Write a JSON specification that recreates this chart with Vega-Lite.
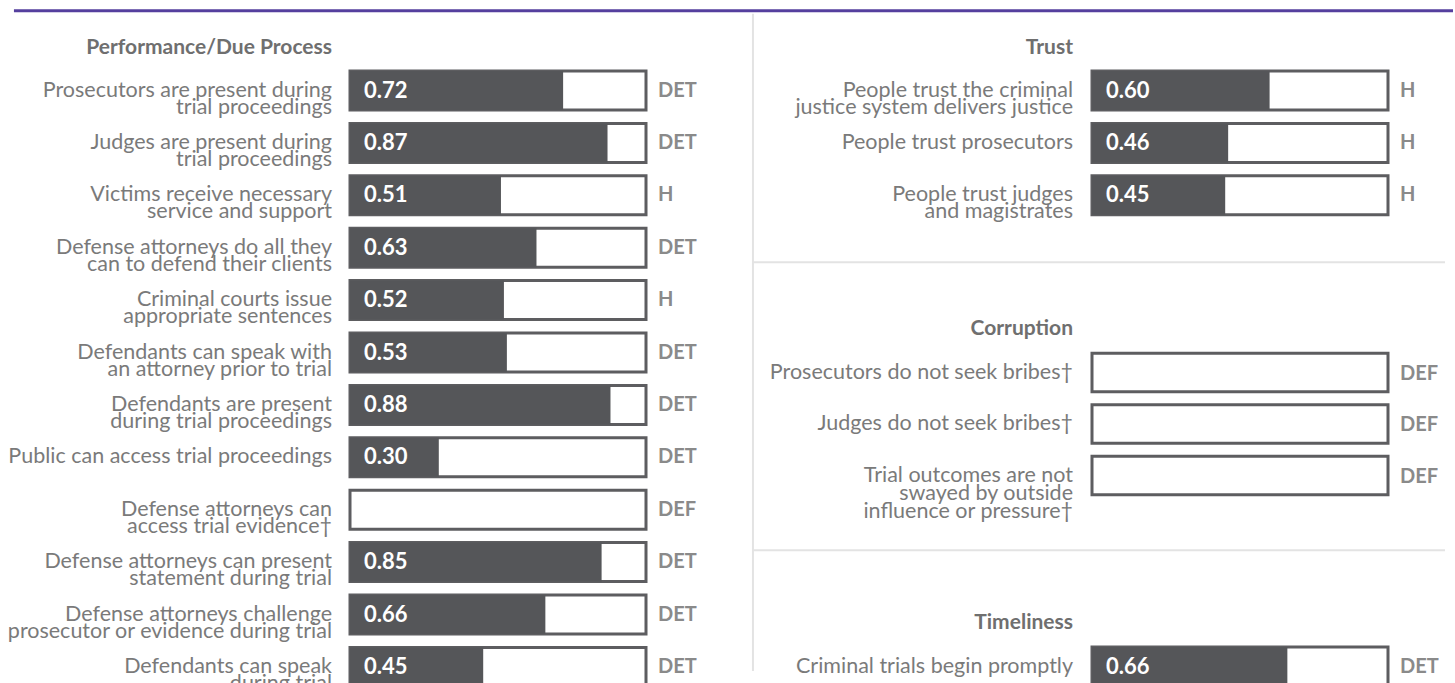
{
  "$schema": "https://vega.github.io/schema/vega-lite/v6.json",
  "width": 1455,
  "height": 683,
  "autosize": {"type": "fit", "contains": "padding"},
  "padding": 0,
  "background": "white",
  "config": {"view": {"stroke": null}, "axis": {"disable": true}, "font": "Lato"},
  "datasets": {
    "items": [
      {"panel": "left", "section": "Performance/Due Process", "order": 1, "label": "Prosecutors are present during\ntrial proceedings", "value": 0.72, "code": "DET"},
      {"panel": "left", "section": "Performance/Due Process", "order": 2, "label": "Judges are present during\ntrial proceedings", "value": 0.87, "code": "DET"},
      {"panel": "left", "section": "Performance/Due Process", "order": 3, "label": "Victims receive necessary\nservice and support", "value": 0.51, "code": "H"},
      {"panel": "left", "section": "Performance/Due Process", "order": 4, "label": "Defense attorneys do all they\ncan to defend their clients", "value": 0.63, "code": "DET"},
      {"panel": "left", "section": "Performance/Due Process", "order": 5, "label": "Criminal courts issue\nappropriate sentences", "value": 0.52, "code": "H"},
      {"panel": "left", "section": "Performance/Due Process", "order": 6, "label": "Defendants can speak with\nan attorney prior to trial", "value": 0.53, "code": "DET"},
      {"panel": "left", "section": "Performance/Due Process", "order": 7, "label": "Defendants are present\nduring trial proceedings", "value": 0.88, "code": "DET"},
      {"panel": "left", "section": "Performance/Due Process", "order": 8, "label": "Public can access trial proceedings", "value": 0.30, "code": "DET"},
      {"panel": "left", "section": "Performance/Due Process", "order": 9, "label": "Defense attorneys can\naccess trial evidence†", "value": null, "code": "DEF"},
      {"panel": "left", "section": "Performance/Due Process", "order": 10, "label": "Defense attorneys can present\nstatement during trial", "value": 0.85, "code": "DET"},
      {"panel": "left", "section": "Performance/Due Process", "order": 11, "label": "Defense attorneys challenge\nprosecutor or evidence during trial", "value": 0.66, "code": "DET"},
      {"panel": "left", "section": "Performance/Due Process", "order": 12, "label": "Defendants can speak\nduring trial", "value": 0.45, "code": "DET"},
      {"panel": "right", "section": "Trust", "order": 1, "label": "People trust the criminal\njustice system delivers justice", "value": 0.60, "code": "H"},
      {"panel": "right", "section": "Trust", "order": 2, "label": "People trust prosecutors", "value": 0.46, "code": "H"},
      {"panel": "right", "section": "Trust", "order": 3, "label": "People trust judges\nand magistrates", "value": 0.45, "code": "H"},
      {"panel": "right", "section": "Corruption", "order": 1, "label": "Prosecutors do not seek bribes†\n ", "value": null, "code": "DEF"},
      {"panel": "right", "section": "Corruption", "order": 2, "label": "Judges do not seek bribes†", "value": null, "code": "DEF"},
      {"panel": "right", "section": "Corruption", "order": 3, "label": "Trial outcomes are not\nswayed by outside\ninfluence or pressure†", "value": null, "code": "DEF"},
      {"panel": "right", "section": "Timeliness", "order": 1, "label": "Criminal trials begin promptly", "value": 0.66, "code": "DET"}
    ]
  },
  "data": {"name": "items"},
  "resolve": {"scale": {"x": "independent", "y": "independent"}},
  "layer": [
    {
      "transform": [{"filter": "datum.section === 'Performance/Due Process'"}],
      "encoding": {
        "y": {"field": "order", "type": "ordinal", "axis": null, "scale": {"range": [64.3, 693.1], "paddingInner": 0.256, "paddingOuter": 0.128}}
      },
      "layer": [
        {"mark": {"type": "bar", "fill": "white", "stroke": "#5d5d60", "strokeWidth": 3},
         "encoding": {"x": {"datum": 1, "type": "quantitative", "axis": null, "scale": {"domain": [0, 1], "range": [350, 646]}}}},
        {"transform": [{"filter": "isValid(datum.value)"}],
         "mark": {"type": "bar", "fill": "#555659"},
         "encoding": {"x": {"field": "value", "type": "quantitative", "axis": null, "scale": {"domain": [0, 1], "range": [350, 646]}}}},
        {"transform": [{"filter": "isValid(datum.value)"}],
         "mark": {"type": "text", "align": "left", "baseline": "middle", "dx": 14, "fontSize": 22, "fontWeight": "bold", "fill": "white", "font": "Lato"},
         "encoding": {"x": {"datum": 0, "type": "quantitative", "axis": null, "scale": {"domain": [0, 1], "range": [350, 646]}}, "text": {"field": "value", "format": ".2f"}}},
        {"mark": {"type": "text", "align": "right", "baseline": "middle", "dx": -18, "fontSize": 21.5, "fill": "#7a7a7a", "font": "Lato", "lineBreak": "\n", "lineHeight": 17},
         "encoding": {"x": {"datum": 0, "type": "quantitative", "axis": null, "scale": {"domain": [0, 1], "range": [350, 646]}}, "text": {"field": "label"}}},
        {"mark": {"type": "text", "align": "left", "baseline": "middle", "dx": 12, "fontSize": 20, "fontWeight": "bold", "fill": "#8a8a8a", "font": "Lato"},
         "encoding": {"x": {"datum": 1, "type": "quantitative", "axis": null, "scale": {"domain": [0, 1], "range": [350, 646]}}, "text": {"field": "code"}}},
        {"transform": [{"filter": "datum.order === 1"}],
         "mark": {"type": "text", "align": "right", "baseline": "middle", "dx": -18, "dy": -43, "fontSize": 21, "fontWeight": "bold", "fill": "#6f6f6f", "font": "Lato"},
         "encoding": {"x": {"datum": 0, "type": "quantitative", "axis": null, "scale": {"domain": [0, 1], "range": [350, 646]}}, "text": {"field": "section"}}}
      ]
    },
    {
      "transform": [{"filter": "datum.section === 'Trust'"}],
      "encoding": {
        "y": {"field": "order", "type": "ordinal", "axis": null, "scale": {"range": [64.3, 221.5], "paddingInner": 0.256, "paddingOuter": 0.128}}
      },
      "layer": [
        {"mark": {"type": "bar", "fill": "white", "stroke": "#5d5d60", "strokeWidth": 3},
         "encoding": {"x": {"datum": 1, "type": "quantitative", "axis": null, "scale": {"domain": [0, 1], "range": [1092, 1388]}}}},
        {"transform": [{"filter": "isValid(datum.value)"}],
         "mark": {"type": "bar", "fill": "#555659"},
         "encoding": {"x": {"field": "value", "type": "quantitative", "axis": null, "scale": {"domain": [0, 1], "range": [1092, 1388]}}}},
        {"transform": [{"filter": "isValid(datum.value)"}],
         "mark": {"type": "text", "align": "left", "baseline": "middle", "dx": 14, "fontSize": 22, "fontWeight": "bold", "fill": "white", "font": "Lato"},
         "encoding": {"x": {"datum": 0, "type": "quantitative", "axis": null, "scale": {"domain": [0, 1], "range": [1092, 1388]}}, "text": {"field": "value", "format": ".2f"}}},
        {"mark": {"type": "text", "align": "right", "baseline": "middle", "dx": -19, "fontSize": 21.5, "fill": "#7a7a7a", "font": "Lato", "lineBreak": "\n", "lineHeight": 17},
         "encoding": {"x": {"datum": 0, "type": "quantitative", "axis": null, "scale": {"domain": [0, 1], "range": [1092, 1388]}}, "text": {"field": "label"}}},
        {"mark": {"type": "text", "align": "left", "baseline": "middle", "dx": 12, "fontSize": 20, "fontWeight": "bold", "fill": "#8a8a8a", "font": "Lato"},
         "encoding": {"x": {"datum": 1, "type": "quantitative", "axis": null, "scale": {"domain": [0, 1], "range": [1092, 1388]}}, "text": {"field": "code"}}},
        {"transform": [{"filter": "datum.order === 1"}],
         "mark": {"type": "text", "align": "right", "baseline": "middle", "dx": -19, "dy": -43, "fontSize": 21, "fontWeight": "bold", "fill": "#6f6f6f", "font": "Lato"},
         "encoding": {"x": {"datum": 0, "type": "quantitative", "axis": null, "scale": {"domain": [0, 1], "range": [1092, 1388]}}, "text": {"field": "section"}}}
      ]
    },
    {
      "transform": [{"filter": "datum.section === 'Corruption'"}],
      "encoding": {
        "y": {"field": "order", "type": "ordinal", "axis": null, "scale": {"range": [346.75, 501.25], "paddingInner": 0.256, "paddingOuter": 0.128}}
      },
      "layer": [
        {"mark": {"type": "bar", "fill": "white", "stroke": "#5d5d60", "strokeWidth": 3},
         "encoding": {"x": {"datum": 1, "type": "quantitative", "axis": null, "scale": {"domain": [0, 1], "range": [1092, 1388]}}}},
        {"transform": [{"filter": "isValid(datum.value)"}],
         "mark": {"type": "bar", "fill": "#555659"},
         "encoding": {"x": {"field": "value", "type": "quantitative", "axis": null, "scale": {"domain": [0, 1], "range": [1092, 1388]}}}},
        {"mark": {"type": "text", "align": "right", "baseline": "middle", "dx": -19, "fontSize": 21.5, "fill": "#7a7a7a", "font": "Lato", "lineBreak": "\n", "lineHeight": 18},
         "encoding": {"x": {"datum": 0, "type": "quantitative", "axis": null, "scale": {"domain": [0, 1], "range": [1092, 1388]}}, "text": {"field": "label"}}},
        {"mark": {"type": "text", "align": "left", "baseline": "middle", "dx": 12, "dy": 1, "fontSize": 20, "fontWeight": "bold", "fill": "#8a8a8a", "font": "Lato"},
         "encoding": {"x": {"datum": 1, "type": "quantitative", "axis": null, "scale": {"domain": [0, 1], "range": [1092, 1388]}}, "text": {"field": "code"}}},
        {"transform": [{"filter": "datum.order === 1"}],
         "mark": {"type": "text", "align": "right", "baseline": "middle", "dx": -19, "dy": -44, "fontSize": 21, "fontWeight": "bold", "fill": "#6f6f6f", "font": "Lato"},
         "encoding": {"x": {"datum": 0, "type": "quantitative", "axis": null, "scale": {"domain": [0, 1], "range": [1092, 1388]}}, "text": {"field": "section"}}}
      ]
    },
    {
      "transform": [{"filter": "datum.section === 'Timeliness'"}],
      "encoding": {
        "y": {"field": "order", "type": "ordinal", "axis": null, "scale": {"range": [640.3, 692.7], "paddingInner": 0.256, "paddingOuter": 0.128}}
      },
      "layer": [
        {"mark": {"type": "bar", "fill": "white", "stroke": "#5d5d60", "strokeWidth": 3},
         "encoding": {"x": {"datum": 1, "type": "quantitative", "axis": null, "scale": {"domain": [0, 1], "range": [1092, 1388]}}}},
        {"transform": [{"filter": "isValid(datum.value)"}],
         "mark": {"type": "bar", "fill": "#555659"},
         "encoding": {"x": {"field": "value", "type": "quantitative", "axis": null, "scale": {"domain": [0, 1], "range": [1092, 1388]}}}},
        {"transform": [{"filter": "isValid(datum.value)"}],
         "mark": {"type": "text", "align": "left", "baseline": "middle", "dx": 14, "fontSize": 22, "fontWeight": "bold", "fill": "white", "font": "Lato"},
         "encoding": {"x": {"datum": 0, "type": "quantitative", "axis": null, "scale": {"domain": [0, 1], "range": [1092, 1388]}}, "text": {"field": "value", "format": ".2f"}}},
        {"mark": {"type": "text", "align": "right", "baseline": "middle", "dx": -19, "fontSize": 21.5, "fill": "#7a7a7a", "font": "Lato", "lineBreak": "\n", "lineHeight": 17},
         "encoding": {"x": {"datum": 0, "type": "quantitative", "axis": null, "scale": {"domain": [0, 1], "range": [1092, 1388]}}, "text": {"field": "label"}}},
        {"mark": {"type": "text", "align": "left", "baseline": "middle", "dx": 12, "fontSize": 20, "fontWeight": "bold", "fill": "#8a8a8a", "font": "Lato"},
         "encoding": {"x": {"datum": 1, "type": "quantitative", "axis": null, "scale": {"domain": [0, 1], "range": [1092, 1388]}}, "text": {"field": "code"}}},
        {"transform": [{"filter": "datum.order === 1"}],
         "mark": {"type": "text", "align": "right", "baseline": "middle", "dx": -19, "dy": -43.5, "fontSize": 21, "fontWeight": "bold", "fill": "#6f6f6f", "font": "Lato"},
         "encoding": {"x": {"datum": 0, "type": "quantitative", "axis": null, "scale": {"domain": [0, 1], "range": [1092, 1388]}}, "text": {"field": "section"}}}
      ]
    },
    {
      "transform": [{"filter": "datum.order === 1 && datum.section === 'Trust'"}],
      "encoding": {
        "x": {"datum": 0.0096, "type": "quantitative", "axis": null, "scale": {"domain": [0, 1]}},
        "x2": {"datum": 1},
        "y": {"datum": 0.0161, "type": "quantitative", "axis": null, "scale": {"domain": [0, 1], "reverse": true}}
      },
      "layer": [
        {"mark": {"type": "rule", "stroke": "#553f9e", "strokeWidth": 3}},
        {"mark": {"type": "rule", "stroke": "#e3e3e3", "strokeWidth": 2},
         "encoding": {"x": {"datum": 0.5182, "type": "quantitative"}, "x2": {"datum": 0.5182}, "y": {"datum": 0.0205, "type": "quantitative"}, "y2": {"datum": 1}}},
        {"mark": {"type": "rule", "stroke": "#e3e3e3", "strokeWidth": 2},
         "encoding": {"x": {"datum": 0.5182, "type": "quantitative"}, "x2": {"datum": 0.9945}, "y": {"datum": 0.3909, "type": "quantitative"}}},
        {"mark": {"type": "rule", "stroke": "#e3e3e3", "strokeWidth": 2},
         "encoding": {"x": {"datum": 0.5182, "type": "quantitative"}, "x2": {"datum": 0.9945}, "y": {"datum": 0.8199, "type": "quantitative"}}}
      ]
    }
  ]
}
